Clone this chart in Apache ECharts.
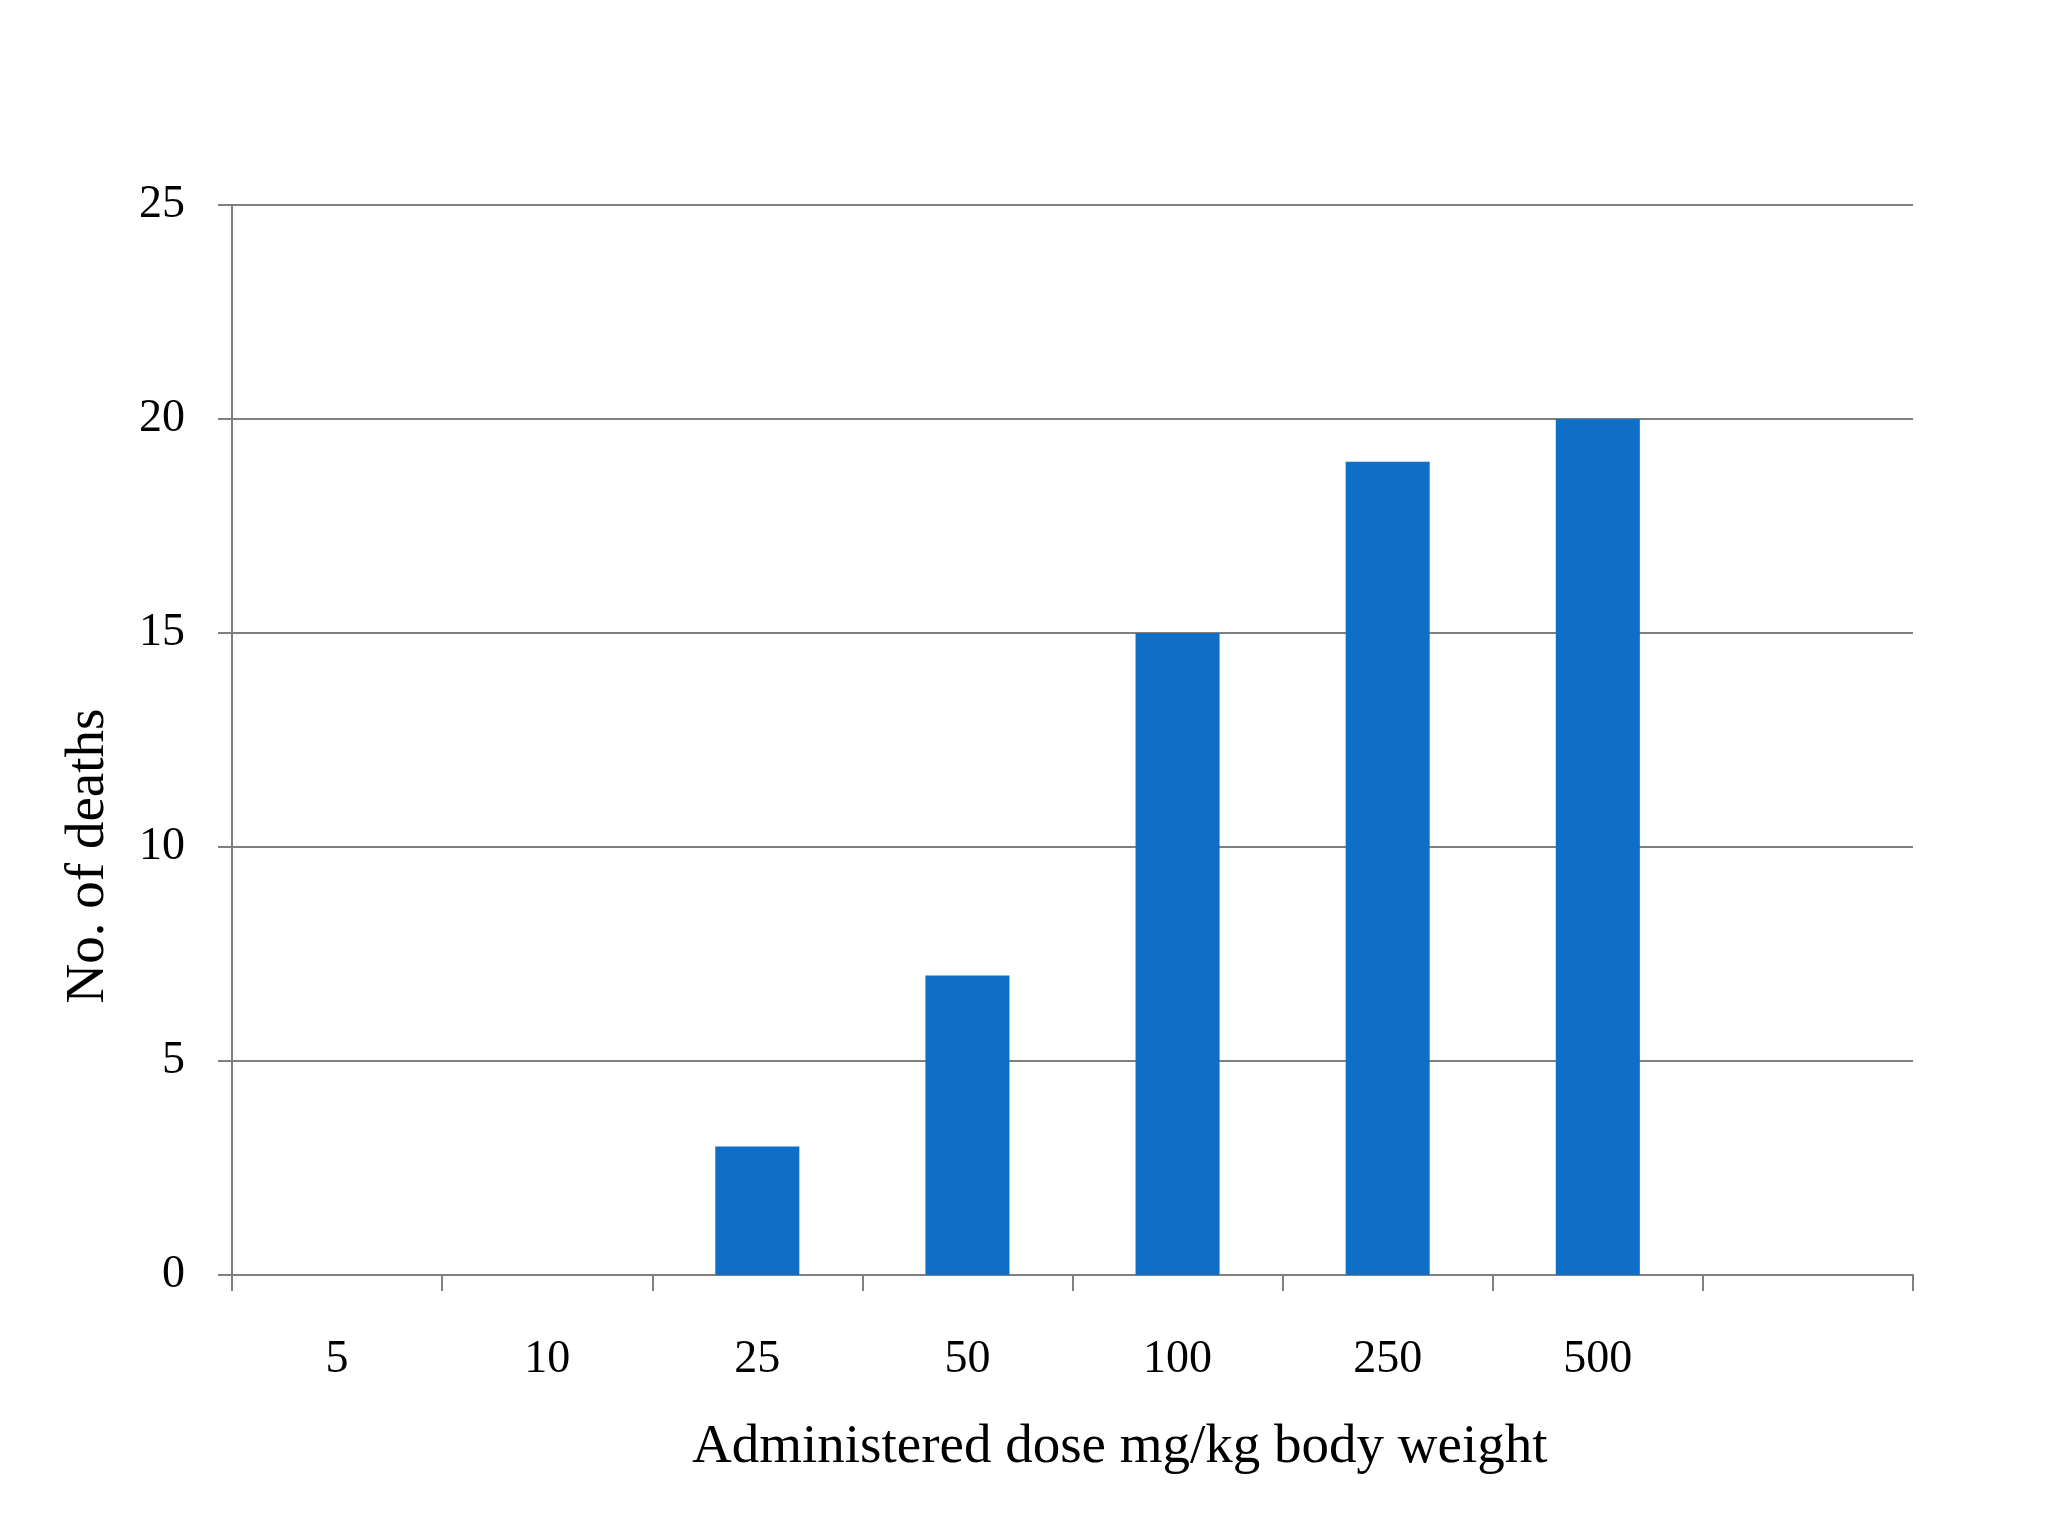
<!DOCTYPE html>
<html>
<head>
<meta charset="utf-8">
<script src="https://cdn.jsdelivr.net/npm/echarts@6/dist/echarts.min.js"></script>
<style>
html,body{margin:0;padding:0;background:#fff;}
#c{width:2048px;height:1536px;}
</style>
</head>
<body>
<div id="c"></div>
<script>
const categories = ['5', '10', '25', '50', '100', '250', '500', ''];
const deaths = [0, 0, 3, 7, 15, 19, 20, null];
const yTicks = { min: 0, max: 25, interval: 5 };
const xTitle = 'Administered dose mg/kg body weight';
const yTitle = 'No. of deaths';

const FONT = 'Liberation Serif';
const chart = echarts.init(document.getElementById('c'));
chart.setOption({
  backgroundColor: '#ffffff',
  animation: false,
  grid: { left: 232, right: 135, top: 205, bottom: 261 },
  xAxis: {
    type: 'category',
    data: categories,
    boundaryGap: true,
    axisLine: { show: true, lineStyle: { color: '#808080', width: 2 } },
    axisTick: { show: true, length: 16, lineStyle: { color: '#808080', width: 2 } },
    axisLabel: { color: '#000', fontFamily: FONT, fontSize: 46, margin: 62 },
    splitLine: { show: false }
  },
  yAxis: {
    type: 'value',
    min: yTicks.min, max: yTicks.max, interval: yTicks.interval,
    axisLine: { show: true, lineStyle: { color: '#808080', width: 2 } },
    axisTick: { show: true, length: 14, lineStyle: { color: '#808080', width: 2 } },
    axisLabel: { color: '#000', fontFamily: FONT, fontSize: 46, margin: 47 },
    splitLine: { show: true, lineStyle: { color: '#808080', width: 2 } }
  },
  series: [{
    type: 'bar',
    data: deaths,
    barWidth: '40%',
    itemStyle: { color: '#0F6FC6' }
  }],
  graphic: [
    {
      type: 'text', left: 692, top: 1420,
      style: { text: xTitle, font: '55px "' + FONT + '"', fill: '#000' }
    },
    {
      type: 'text', x: 89, y: 856, rotation: Math.PI / 2,
      style: { text: yTitle, font: '55px "' + FONT + '"', fill: '#000', align: 'center', verticalAlign: 'middle' }
    }
  ]
});
</script>
</body>
</html>
